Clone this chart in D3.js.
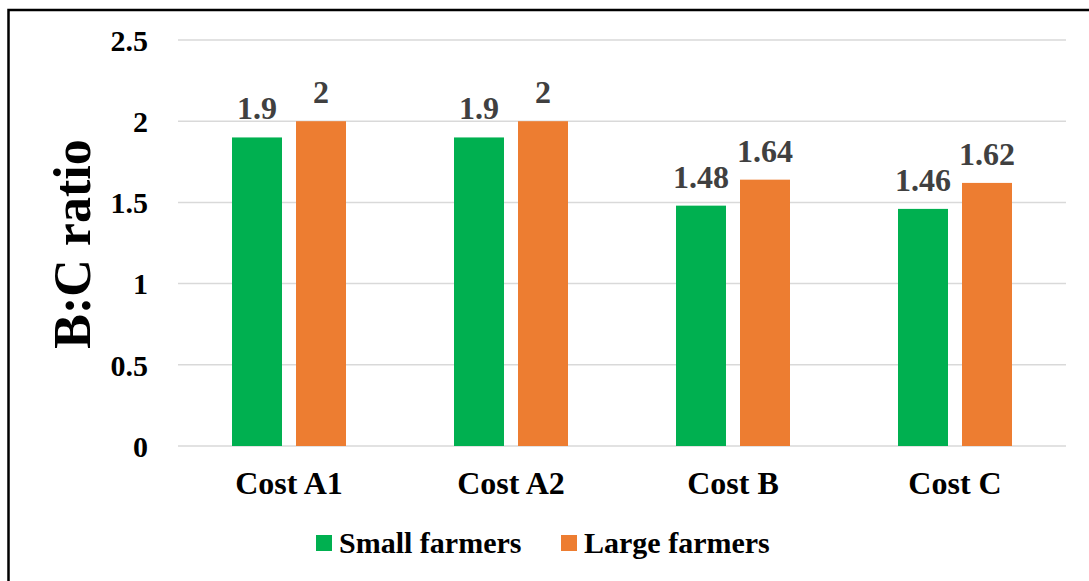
<!DOCTYPE html>
<html>
<head>
<meta charset="utf-8">
<script src="https://cdn.jsdelivr.net/npm/d3@7/dist/d3.min.js"></script>
<style>
  html, body { margin: 0; padding: 0; background: #fff; }
  svg { display: block; }
  text { font-family: "Liberation Serif", "Times New Roman", serif; font-weight: bold; }
</style>
</head>
<body>
<svg id="chart" width="1089" height="581"></svg>
<script>
// Benefit-cost ratio by cost concept and farm size
const categories = ["Cost A1", "Cost A2", "Cost B", "Cost C"];
const seriesNames = ["Small farmers", "Large farmers"];
const smallFarmers = [1.9, 1.9, 1.48, 1.46];
const largeFarmers = [2, 2, 1.64, 1.62];
const yTicks = [0, 0.5, 1, 1.5, 2, 2.5];
const colors = ["#00B050", "#ED7D31"];

const FONT = "'Liberation Serif', 'Times New Roman', serif";
const svg = d3.select("#chart");
const plot = { left: 178, right: 1066, top: 40, bottom: 446 };

// outer frame
svg.append("rect")
  .attr("x", 8.5).attr("y", 10)
  .attr("width", 1200).attr("height", 700)
  .attr("fill", "none").attr("stroke", "#000").attr("stroke-width", 2.5);

const y = d3.scaleLinear().domain([0, 2.5]).range([plot.bottom, plot.top]);
const x0 = d3.scaleBand().domain(categories).range([plot.left, plot.right]).padding(0);
const x1 = d3.scaleBand().domain(seriesNames).range([54, 168]).paddingInner(0.219).paddingOuter(0);

// gridlines
svg.append("g").selectAll("line").data(yTicks).join("line")
  .attr("x1", plot.left).attr("x2", plot.right)
  .attr("y1", d => y(d)).attr("y2", d => y(d))
  .attr("stroke", "#D9D9D9").attr("stroke-width", 1.5);

// y axis labels
const yAxis = d3.axisLeft(y).tickValues(yTicks).tickSize(0).tickPadding(0).tickFormat(d3.format("~g"));
const yg = svg.append("g").attr("transform", `translate(148,0)`).call(yAxis)
  .attr("font-family", FONT);
yg.select(".domain").remove();
yg.selectAll("text")
  .attr("font-size", 30).attr("fill", "#000")
  .style("font-family", FONT).style("font-weight", "bold")
  .attr("dy", "0.34em");

// x axis labels
const xAxis = d3.axisBottom(x0).tickSize(0).tickPadding(0);
const xg = svg.append("g").attr("transform", `translate(0,${plot.bottom})`).call(xAxis)
  .attr("font-family", FONT);
xg.select(".domain").remove();
xg.selectAll("text")
  .attr("font-size", 32).attr("fill", "#000")
  .style("font-family", FONT).style("font-weight", "bold")
  .attr("y", 48).attr("dy", 0);

// bars
const rows = categories.map((c, i) => ({ cat: c, vals: [smallFarmers[i], largeFarmers[i]] }));
const groups = svg.append("g").selectAll("g").data(rows).join("g")
  .attr("transform", d => `translate(${x0(d.cat)},0)`);

groups.selectAll("rect")
  .data(d => d.vals.map((v, j) => ({ key: seriesNames[j], v, j })))
  .join("rect")
  .attr("x", d => x1(d.key))
  .attr("width", x1.bandwidth())
  .attr("y", d => y(d.v))
  .attr("height", d => y(0) - y(d.v))
  .attr("fill", d => colors[d.j]);

// value labels
groups.selectAll("text.val")
  .data(d => d.vals.map((v, j) => ({ key: seriesNames[j], v, j })))
  .join("text")
  .attr("class", "val")
  .attr("x", d => x1(d.key) + x1.bandwidth() / 2)
  .attr("y", d => y(d.v) - 18)
  .attr("text-anchor", "middle")
  .attr("font-size", 32)
  .attr("fill", "#404040")
  .style("font-family", FONT).style("font-weight", "bold")
  .text(d => d3.format("~g")(d.v));

// y axis title
svg.append("text")
  .attr("transform", "translate(90,244) rotate(-90)")
  .attr("text-anchor", "middle")
  .attr("font-size", 52)
  .attr("fill", "#000")
  .style("font-family", FONT).style("font-weight", "bold")
  .text("B:C ratio");

// legend
const legendItems = [
  { name: seriesNames[0], color: colors[0], x: 316 },
  { name: seriesNames[1], color: colors[1], x: 561 }
];
const lg = svg.append("g").selectAll("g").data(legendItems).join("g")
  .attr("transform", d => `translate(${d.x},0)`);
lg.append("rect").attr("x", 0).attr("y", 535).attr("width", 16).attr("height", 16)
  .attr("fill", d => d.color);
lg.append("text").attr("x", 23).attr("y", 553)
  .attr("font-size", 30).attr("fill", "#000")
  .style("font-family", FONT).style("font-weight", "bold")
  .text(d => d.name);
</script>
</body>
</html>
